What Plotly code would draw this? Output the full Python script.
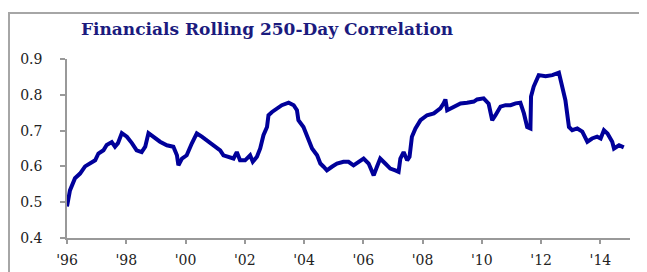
import plotly.graph_objects as go

title_text = "Financials Rolling 250-Day Correlation"

years = [1996.00, 1996.10, 1996.27, 1996.44, 1996.61, 1996.78, 1996.95, 1997.06, 1997.23, 1997.34,
         1997.51, 1997.62, 1997.72, 1997.85, 1998.02, 1998.19, 1998.35, 1998.52, 1998.64, 1998.75,
         1998.92, 1999.14, 1999.37, 1999.59, 1999.71, 1999.76, 1999.88, 2000.04, 2000.21, 2000.38,
         2000.55, 2000.72, 2000.94, 2001.17, 2001.28, 2001.45, 2001.62, 2001.73, 2001.84, 2002.01,
         2002.18, 2002.27, 2002.41, 2002.52, 2002.63, 2002.75, 2002.80, 2002.92, 2003.08, 2003.25,
         2003.48, 2003.65, 2003.76, 2003.81, 2003.98, 2004.10, 2004.27, 2004.44, 2004.55, 2004.66,
         2004.77, 2004.94, 2005.11, 2005.33, 2005.50, 2005.67, 2005.84, 2006.01, 2006.18, 2006.35,
         2006.46, 2006.57, 2006.74, 2006.91, 2007.08, 2007.19, 2007.25, 2007.36, 2007.48, 2007.56,
         2007.64, 2007.76, 2007.93, 2008.15, 2008.38, 2008.60, 2008.71, 2008.77, 2008.83, 2008.94,
         2009.11, 2009.28, 2009.50, 2009.73, 2009.84, 2010.06, 2010.23, 2010.35, 2010.46, 2010.63,
         2010.80, 2010.97, 2011.14, 2011.30, 2011.42, 2011.53, 2011.64, 2011.66, 2011.75, 2011.92,
         2012.15, 2012.38, 2012.60, 2012.71, 2012.82, 2012.94, 2013.05, 2013.22, 2013.39, 2013.56,
         2013.72, 2013.89, 2014.01, 2014.12, 2014.24, 2014.40, 2014.46, 2014.63, 2014.79]

correlation = [0.488, 0.533, 0.567, 0.580, 0.600, 0.610, 0.617, 0.636, 0.645, 0.660,
               0.668, 0.655, 0.665, 0.693, 0.683, 0.665, 0.645, 0.640, 0.655, 0.693,
               0.683, 0.669, 0.659, 0.655, 0.631, 0.603, 0.622, 0.631, 0.664, 0.692,
               0.683, 0.673, 0.659, 0.645, 0.631, 0.627, 0.622, 0.640, 0.617, 0.617,
               0.631, 0.613, 0.627, 0.650, 0.687, 0.710, 0.743, 0.752, 0.762, 0.771,
               0.778, 0.771, 0.757, 0.729, 0.710, 0.683, 0.650, 0.631, 0.608, 0.599,
               0.589, 0.599, 0.608, 0.613, 0.613, 0.603, 0.613, 0.622, 0.608, 0.575,
               0.599, 0.622, 0.608, 0.594, 0.589, 0.585, 0.622, 0.640, 0.617, 0.627,
               0.683, 0.706, 0.729, 0.743, 0.748, 0.762, 0.776, 0.787, 0.757, 0.762,
               0.767, 0.776, 0.778, 0.781, 0.787, 0.790, 0.775, 0.729, 0.743, 0.767,
               0.771, 0.771, 0.776, 0.778, 0.748, 0.710, 0.706, 0.795, 0.823, 0.855,
               0.852, 0.855, 0.862, 0.823, 0.785, 0.710, 0.701, 0.706, 0.697, 0.669,
               0.678, 0.683, 0.678, 0.701, 0.692, 0.669, 0.650, 0.659, 0.653]

tick_years = [1996, 1998, 2000, 2002, 2004, 2006, 2008, 2010, 2012, 2014]
tick_labels = ["'96", "'98", "'00", "'02", "'04", "'06", "'08", "'10", "'12", "'14"]
y_ticks = [0.4, 0.5, 0.6, 0.7, 0.8, 0.9]

serif = "Palatino Linotype, Book Antiqua, Palatino, DejaVu Serif, serif"

fig = go.Figure()
fig.add_trace(go.Scatter(
    x=years, y=correlation, mode="lines",
    line=dict(color="#00009a", width=4),
    hoverinfo="skip", showlegend=False,
))

# page is offset by the 8px body margin, so the figure is 8px smaller
OFF = 8
W, H = 647 - OFF, 272 - OFF
L, R, T, B = 59, 17, 51, 34
pw, ph = W - L - R, H - T - B

def px_x(x):
    return (x - OFF - L) / pw

def px_y(y):
    return (H - B - (y - OFF)) / ph

fig.add_shape(type="rect", xref="paper", yref="paper",
              x0=px_x(9), x1=px_x(641), y0=px_y(285), y1=px_y(13),
              line=dict(color="#a6a6a6", width=2), fillcolor="rgba(0,0,0,0)", layer="below")

fig.update_layout(
    width=W, height=H,
    margin=dict(l=L, r=R, t=T, b=B, autoexpand=False),
    paper_bgcolor="white", plot_bgcolor="white",
    title=dict(text="<b>" + title_text + "</b>", x=(267 - OFF) / W, xanchor="center",
               y=1 - (29 - OFF) / H, yanchor="middle",
               font=dict(family=serif, size=17, color="#1b1b7e")),
    xaxis=dict(range=[1996, 2015], tickvals=tick_years, ticktext=tick_labels,
               showgrid=False, zeroline=False, showline=True, linecolor="#999999", linewidth=1.5,
               ticks="outside", ticklen=4, tickcolor="#999999", tickwidth=1.5,
               ticklabelstandoff=4,
               tickfont=dict(family=serif, size=14, color="#222222")),
    yaxis=dict(range=[0.4, 0.9], tickvals=y_ticks, tickformat=".1f",
               showgrid=False, zeroline=False, showline=True, linecolor="#999999", linewidth=1.5,
               ticks="outside", ticklen=5, tickcolor="#999999", tickwidth=1.5,
               ticklabelstandoff=15,
               tickfont=dict(family=serif, size=14, color="#222222")),
)

fig.write_html("out.html")
